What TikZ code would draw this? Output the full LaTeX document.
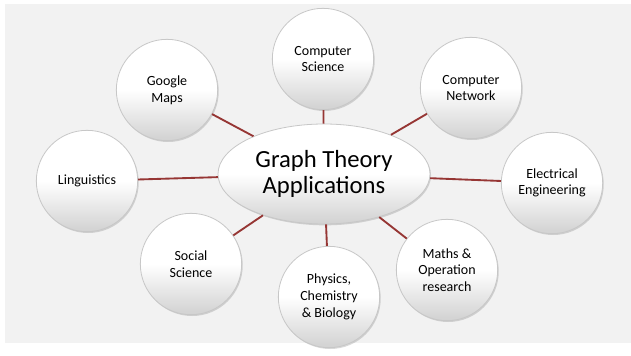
\documentclass[tikz,border=0pt]{standalone}
\usepackage{fontspec}
\setmainfont{Carlito}
\usetikzlibrary{shapes.geometric,shadows}
\definecolor{bggrey}{RGB}{242,242,242}
\definecolor{linkred}{RGB}{150,54,52}
\tikzset{
  topic/.style={circle,draw=black!22,line width=0.6pt,minimum size=76pt,inner sep=0pt,
    top color=white,bottom color=black!18,middle color=white,align=center,
    font=\fontsize{10.5}{12.5}\selectfont,
    drop shadow={opacity=0.3,shadow xshift=0.8pt,shadow yshift=-1pt}},
  hub/.style={ellipse,draw=black!22,line width=0.6pt,minimum width=159pt,minimum height=75pt,
    inner sep=0pt,top color=white,bottom color=black!18,middle color=white,align=center,
    font=\fontsize{18.5}{20}\selectfont,
    drop shadow={opacity=0.3,shadow xshift=0.8pt,shadow yshift=-1pt}},
  link/.style={draw=linkred,line width=1.4pt}
}
\begin{document}
\begin{tikzpicture}[x=0.75pt,y=-0.75pt]
        \useasboundingbox (0,0) rectangle (631,356);
        \fill[bggrey] (5,4) rectangle (631,343);

        % Centre
        \node[hub] (gta) at (324,174) {Graph Theory\\Applications};

        % Topics
        \node[topic] (cs) at (323,59) {Computer\\Science};
        \node[topic] (gm) at (167,90) {Google\\Maps};
        \node[topic] (cn) at (471,88) {Computer\\Network};
        \node[topic] (ling) at (87,181) {Linguistics};
        \node[topic] (ee) at (552,183) {Electrical\\Engineering};
        \node[topic] (ss) at (191,264) {Social\\Science};
        \node[topic] (pcb) at (329,297) {Physics,\\Chemistry\\\& Biology};
        \node[topic] (mor) at (447,270) {Maths \&\\Operation\\research};

        % Links
        \foreach \t in {cs,gm,cn,ling,ee,ss,pcb,mor} \draw[link] (gta)--(\t);
    \end{tikzpicture}
\end{document}
